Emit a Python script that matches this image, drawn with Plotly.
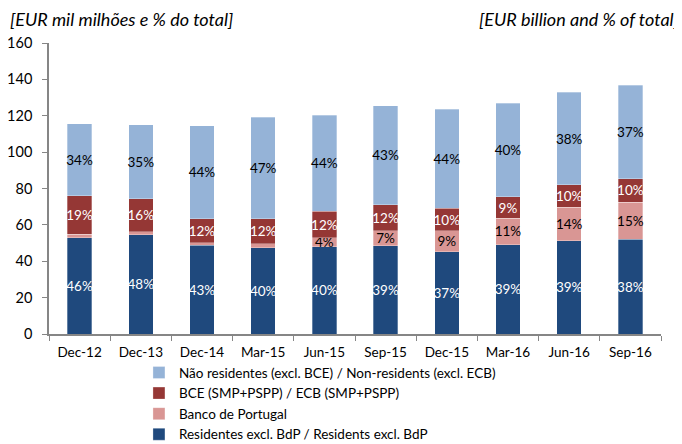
import plotly.graph_objects as go

categories = ["Dec-12", "Dec-13", "Dec-14", "Mar-15", "Jun-15", "Sep-15", "Dec-15", "Mar-16", "Jun-16", "Sep-16"]

residents = [53.0, 54.7, 48.7, 47.4, 47.9, 48.5, 45.2, 49.2, 51.4, 52.0]
bdp = [1.9, 1.5, 1.4, 2.2, 5.0, 8.2, 11.5, 14.5, 18.3, 20.5]
ecb = [21.2, 18.3, 13.4, 13.7, 14.6, 14.5, 12.5, 11.7, 12.3, 12.9]
non_res = [39.4, 40.6, 50.9, 56.0, 52.9, 54.2, 54.5, 51.6, 50.9, 51.3]

residents_lbl = ["46%", "48%", "43%", "40%", "40%", "39%", "37%", "39%", "39%", "38%"]
bdp_lbl = ["", "", "", "", "4%", "7%", "9%", "11%", "14%", "15%"]
ecb_lbl = ["19%", "16%", "12%", "12%", "12%", "12%", "10%", "9%", "10%", "10%"]
non_res_lbl = ["34%", "35%", "44%", "47%", "44%", "43%", "44%", "40%", "38%", "37%"]

series_names = [
    "Residentes excl. BdP / Residents excl. BdP",
    "Banco de Portugal",
    "BCE (SMP+PSPP) / ECB (SMP+PSPP)",
    "Não residentes (excl. BCE) / Non-residents (excl. ECB)",
]
colors = ["#1F497D", "#D99694", "#953735", "#95B3D7"]
text_colors = ["white", "black", "white", "black"]

FONT = "Lato"

fig = go.Figure()
for name, vals, lbls, col, tcol in zip(series_names, [residents, bdp, ecb, non_res],
                                        [residents_lbl, bdp_lbl, ecb_lbl, non_res_lbl],
                                        colors, text_colors):
    fig.add_trace(go.Bar(
        x=categories, y=vals, name=name, text=lbls,
        marker=dict(color=col, line=dict(color="rgba(255,255,255,0.6)", width=0.5)),
        textposition="inside", insidetextanchor="middle", textangle=0,
        constraintext="none",
        textfont=dict(color=tcol, size=13.5, family=FONT),
        hoverinfo="skip",
    ))

# page body has an 8px default margin, so the figure is offset by 8px
fig.update_layout(
    barmode="stack",
    bargap=0.6,
    width=674, height=436,
    margin=dict(l=41, r=21, t=35, b=110, autoexpand=False),
    paper_bgcolor="white", plot_bgcolor="white",
    font=dict(family=FONT, size=14, color="#000000"),
    showlegend=True,
    legend=dict(
        orientation="v", traceorder="reversed",
        x=0.147, xanchor="left", y=-0.08, yanchor="top",
        font=dict(size=13.5, family=FONT, color="#000000"),
        itemwidth=30, tracegroupgap=0,
        bgcolor="rgba(0,0,0,0)",
    ),
    annotations=[
        dict(text="<i>[EUR mil milhões e % do total]</i>", xref="paper", yref="paper",
             x=-0.067, y=1.0, xanchor="left", yanchor="bottom", yshift=11,
             showarrow=False, font=dict(size=18, family=FONT)),
        dict(text="<i>[EUR billion and % of total]</i>", xref="paper", yref="paper",
             x=1.032, y=1.0, xanchor="right", yanchor="bottom", yshift=11,
             showarrow=False, font=dict(size=18, family=FONT)),
    ],
)
fig.update_xaxes(
    type="category", showgrid=False, showline=True, linecolor="#868686", linewidth=1.5,
    ticks="outside", tickson="boundaries", ticklen=5, tickcolor="#868686",
    tickfont=dict(size=13.5, family=FONT, color="#000000"), automargin=False,
    ticklabelstandoff=5,
)
fig.update_yaxes(
    range=[0, 160], dtick=20, showgrid=False, showline=True, linecolor="#868686", linewidth=1.5,
    ticks="outside", ticklen=5, tickcolor="#868686",
    tickfont=dict(size=14.5, family=FONT, color="#000000"), zeroline=False, automargin=False,
    ticklabelstandoff=7,
)

fig.write_html("out.html")
